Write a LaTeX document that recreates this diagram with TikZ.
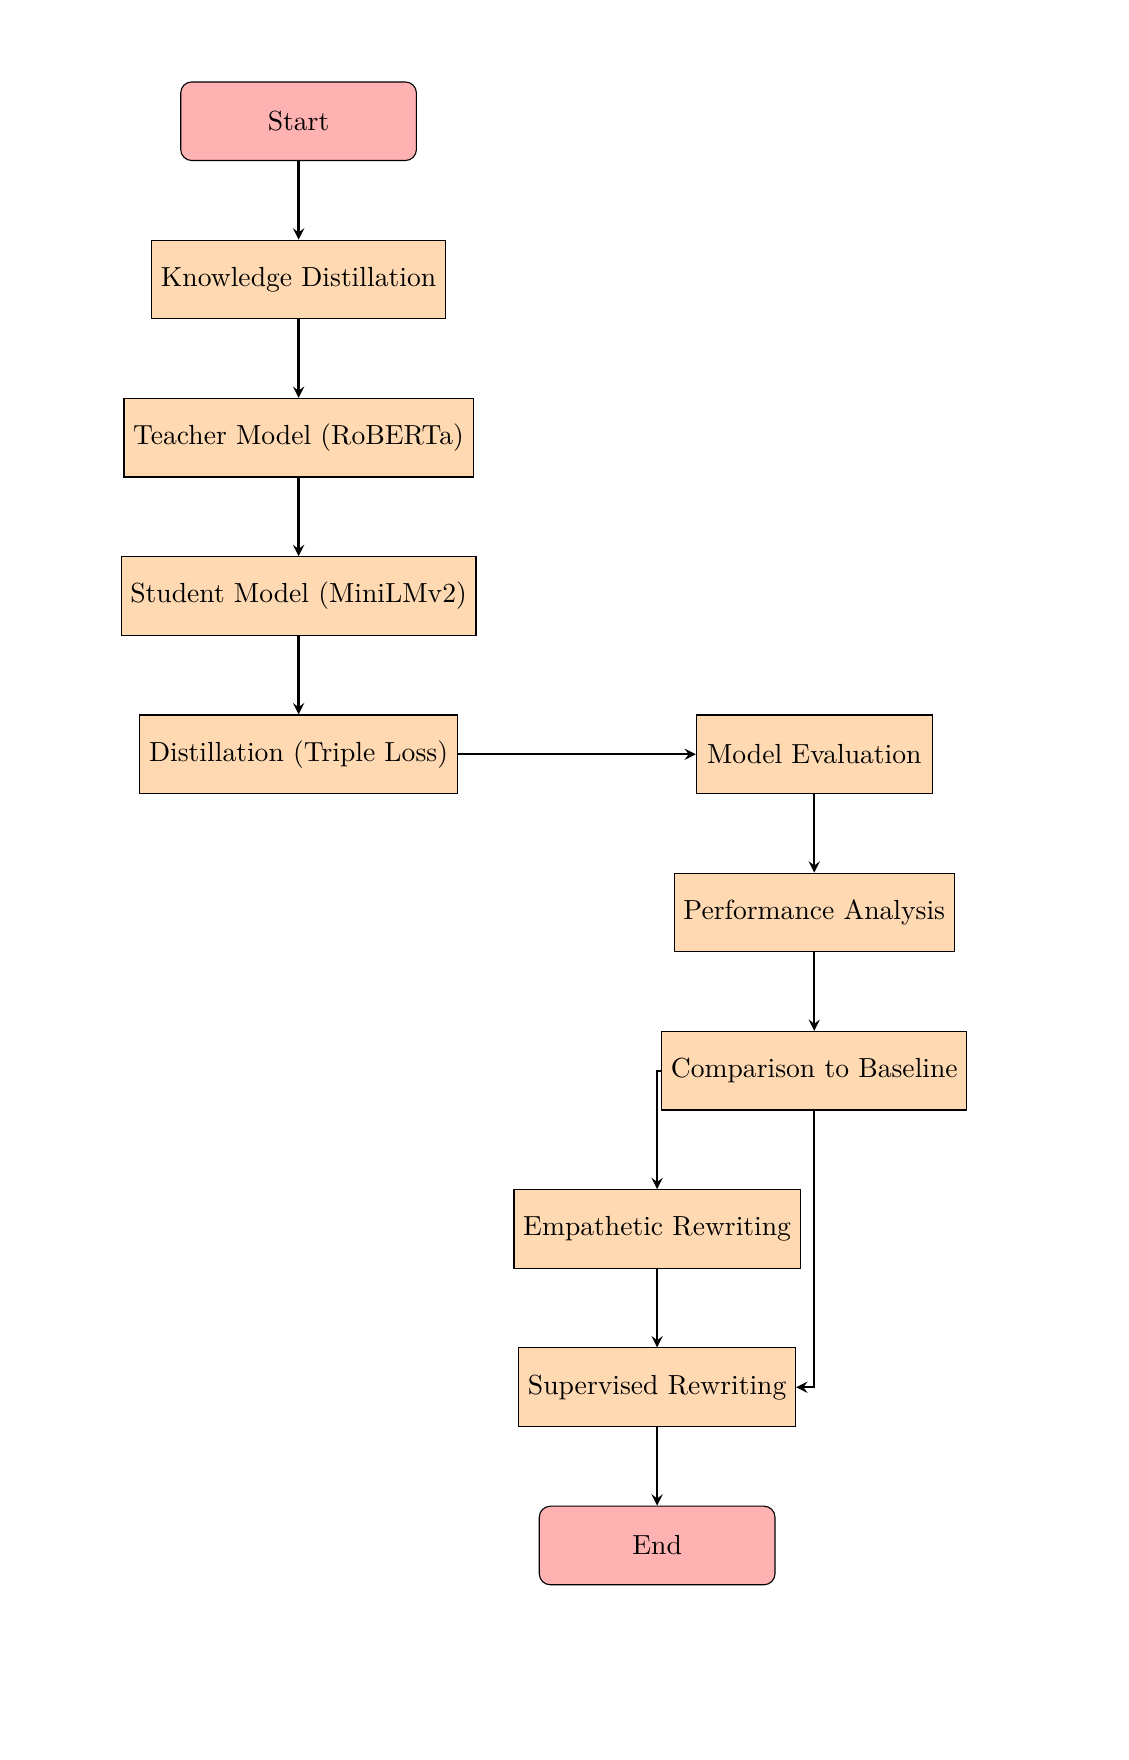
\documentclass[tikz,border=0pt]{standalone}
\usetikzlibrary{positioning}
\begin{document}
\begin{tikzpicture}[
  node distance=1cm,
  terminal/.style={rectangle, rounded corners, minimum width=3cm, minimum height=1cm,
    text centered, draw=black, fill=red!30},
  process/.style={rectangle, minimum width=3cm, minimum height=1cm,
    text centered, draw=black, fill=orange!30},
  flow/.style={thick, ->, >=stealth}
]
\useasboundingbox (0,0) rectangle (14.36,-22.40);

\node (start) [terminal] at (3.80,-1.543) {Start};
\node (kd) [process, below=of start] {Knowledge Distillation};
\node (teacher) [process, below=of kd] {Teacher Model (RoBERTa)};
\node (student) [process, below=of teacher] {Student Model (MiniLMv2)};
\node (distill) [process, below=of student] {Distillation (Triple Loss)};
\node (eval) [process, right=3.03cm of distill] {Model Evaluation};
\node (perf) [process, below=of eval] {Performance Analysis};
\node (comp) [process, below=of perf] {Comparison to Baseline};
\node (emp) [process, below=of comp, xshift=-2cm] {Empathetic Rewriting};
\node (sup) [process, below=of emp] {Supervised Rewriting};
\node (stop) [terminal, below=of sup] {End};

\draw [flow] (start) -- (kd);
\draw [flow] (kd) -- (teacher);
\draw [flow] (teacher) -- (student);
\draw [flow] (student) -- (distill);
\draw [flow] (distill) -- (eval);
\draw [flow] (eval) -- (perf);
\draw [flow] (perf) -- (comp);
\draw [flow] (comp.west) -| (emp.north);
\draw [flow] (comp.south) |- (sup.east);
\draw [flow] (emp) -- (sup);
\draw [flow] (sup) -- (stop);
\end{tikzpicture}
\end{document}
